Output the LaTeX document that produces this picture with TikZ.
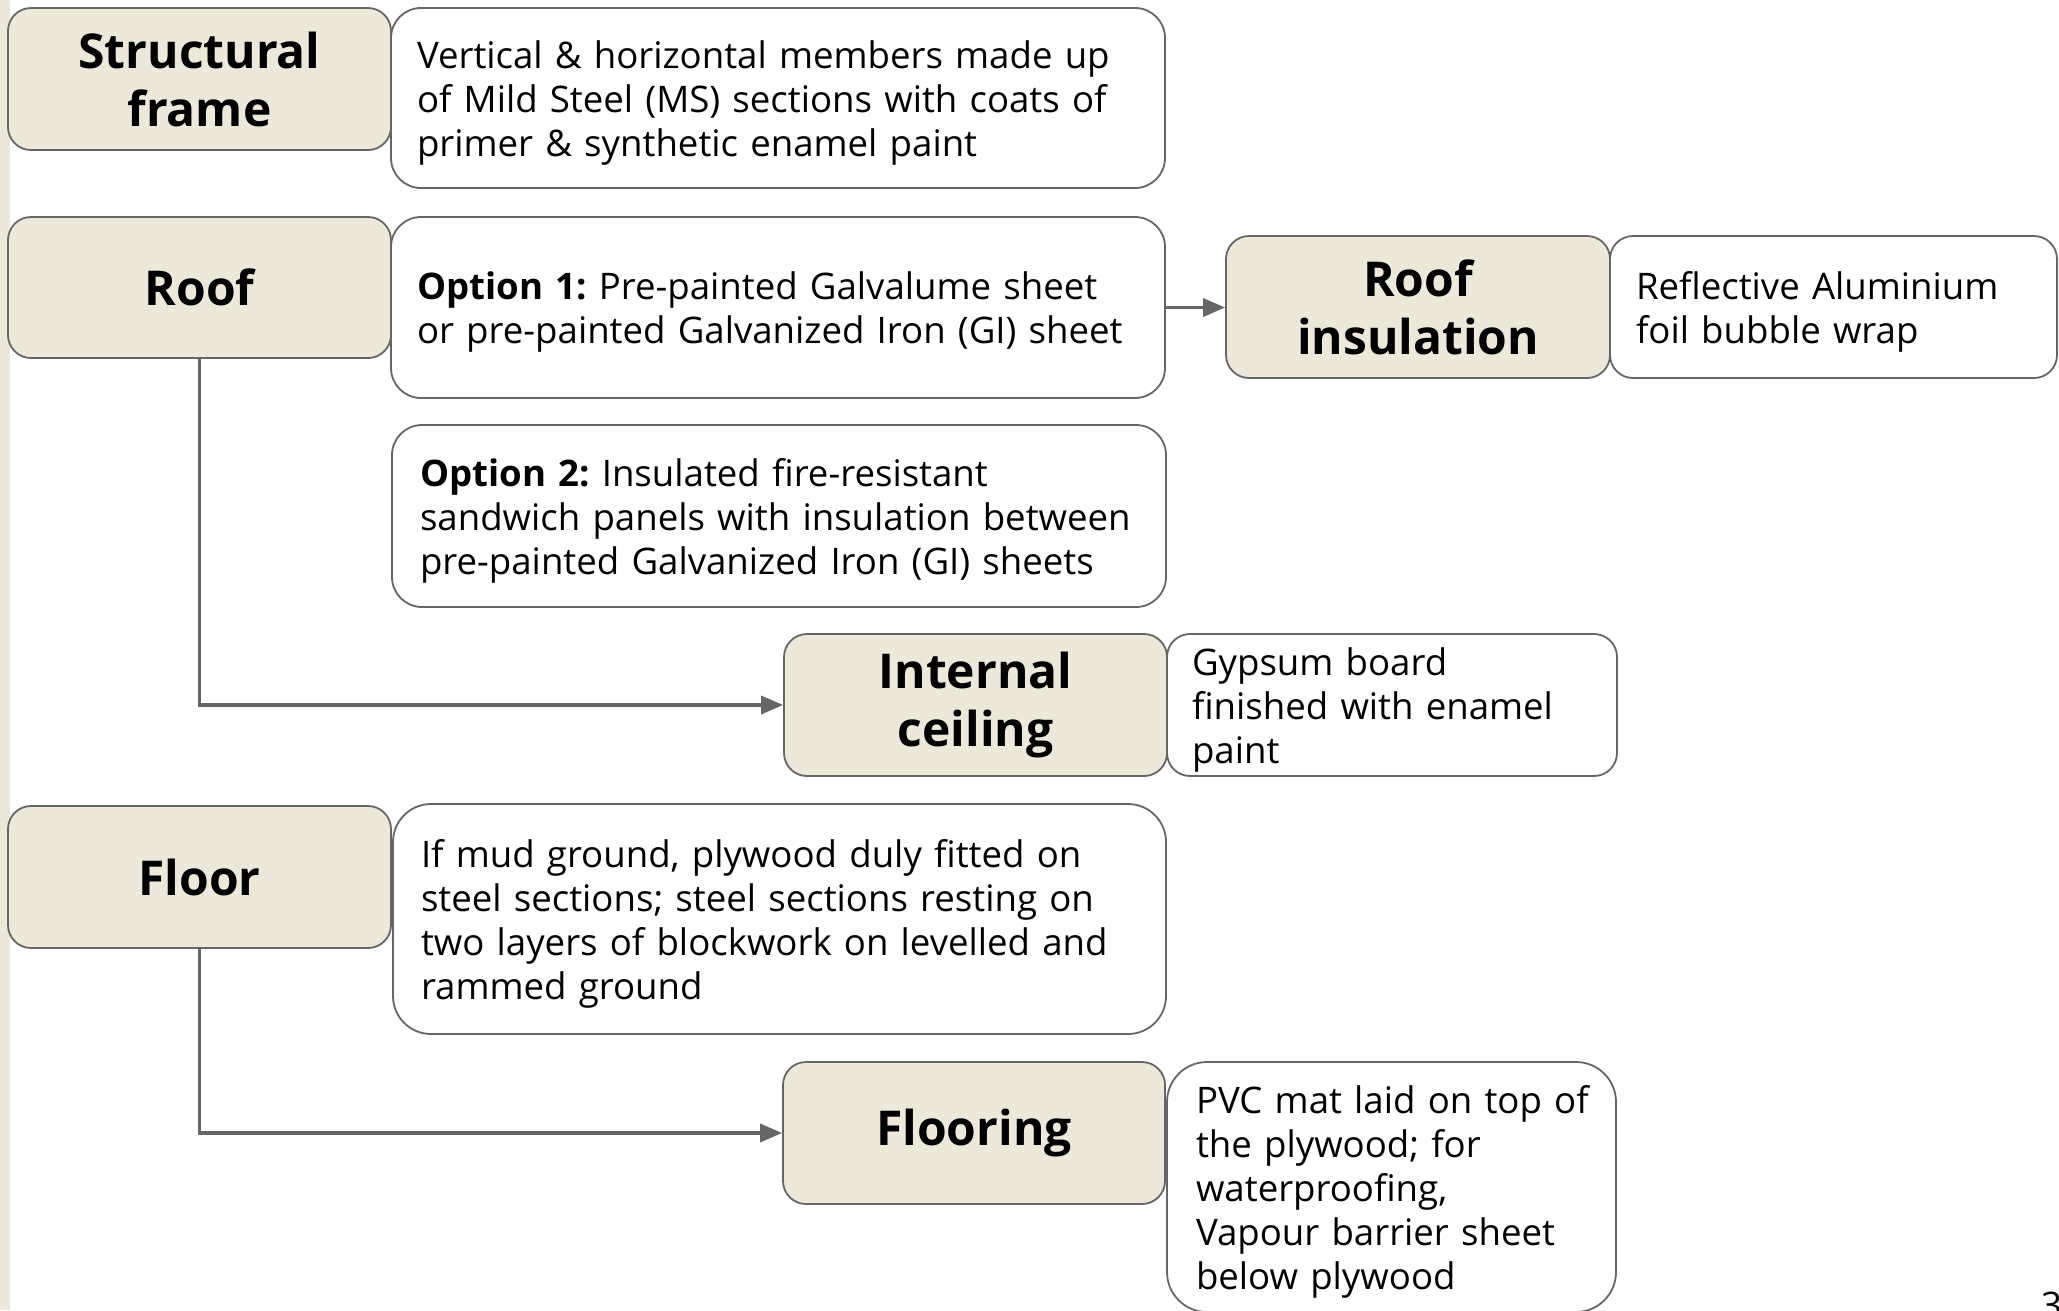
\documentclass[tikz,border=0pt]{standalone}
\usepackage{fontspec}
\setmainfont{Open Sans}
\usetikzlibrary{arrows.meta}
\definecolor{beige}{RGB}{236,233,218}
\definecolor{edgegray}{RGB}{102,102,102}
\newcommand{\bodyfnt}{\fontsize{36.6}{44}\selectfont\frenchspacing}
\newcommand{\titlefnt}{\fontsize{48}{58}\selectfont\bfseries\frenchspacing}
\newcommand{\tst}{\rule{0pt}{37pt}}
\newcommand{\bst}{\rule[-9pt]{0pt}{9pt}}
\begin{document}
\begin{tikzpicture}[x=1pt,y=-1pt,
  box/.style={draw=edgegray, line width=1.8pt, inner sep=0pt},
  titlebox/.style={box, fill=beige, font=\titlefnt, align=center},
  descbox/.style={box, fill=white, font=\bodyfnt, align=left},
  conn/.style={draw=edgegray, line width=3.5pt, -{Triangle[length=22pt,width=18pt]}},
]
\useasboundingbox (0,0) rectangle (2059,1310);
\clip (0,0) rectangle (2059,1310);
\fill[white] (0,0) rectangle (2059,1310);
\fill[beige] (0,0) rectangle (10,1310);

% Structural frame
\node[titlebox, minimum width=383pt, minimum height=142pt, rounded corners=23pt] (sf) at (199.5,79) {Structural\\frame};
\node[descbox, minimum width=774pt, minimum height=180pt, rounded corners=30pt, text width=722pt] (sfd) at (778,98) {\tst Vertical \& horizontal members made up\\of Mild Steel (MS) sections with coats of\\primer \& synthetic enamel paint\bst};

% Roof
\node[titlebox, minimum width=383pt, minimum height=141pt, rounded corners=23pt] (roof) at (199.5,287.5) {Roof};
\node[descbox, minimum width=774pt, minimum height=181pt, rounded corners=30pt, text width=722pt] (opt1) at (778,307.5) {\tst\textbf{Option 1:} Pre-painted Galvalume sheet\\or pre-painted Galvanized Iron (GI) sheet\bst};
\node[titlebox, minimum width=384pt, minimum height=142pt, rounded corners=23pt] (ri) at (1418,307) {Roof\\insulation};
\node[descbox, minimum width=447pt, minimum height=142pt, rounded corners=23pt, text width=395pt] (refl) at (1833.5,307) {\tst Reflective Aluminium\\foil bubble wrap\bst};
\node[descbox, minimum width=774pt, minimum height=182pt, rounded corners=30pt, text width=718pt] (opt2) at (779,516) {\tst\textbf{Option 2:} Insulated fire-resistant\\sandwich panels with insulation between\\pre-painted Galvanized Iron (GI) sheets\bst};

% Internal ceiling
\node[titlebox, minimum width=383pt, minimum height=142pt, rounded corners=23pt] (ic) at (975.5,705) {Internal\\ceiling};
\node[descbox, minimum width=450pt, minimum height=142pt, rounded corners=23pt, text width=400pt] (gyp) at (1392,705) {\tst Gypsum board\\finished with enamel\\paint\bst};

% Floor
\node[titlebox, minimum width=383pt, minimum height=142pt, rounded corners=23pt] (floor) at (199.5,877) {Floor};
\node[descbox, minimum width=773pt, minimum height=230pt, rounded corners=38pt, text width=717pt] (flrd) at (779.5,919) {\tst If mud ground, plywood duly fitted on\\steel sections; steel sections resting on\\two layers of blockwork on levelled and\\rammed ground\bst};
\node[titlebox, minimum width=382pt, minimum height=142pt, rounded corners=23pt] (flooring) at (974,1133) {Flooring};
\node[descbox, minimum width=449pt, minimum height=250pt, rounded corners=40pt, text width=391pt] (pvc) at (1391.5,1187) {\tst\mbox{PVC mat laid on top of}\\the plywood; for\\waterproofing,\\Vapour barrier sheet\\below plywood\bst};

% connectors
\draw[conn] (opt1.east) -- (opt1.east -| ri.west);
\draw[conn] (roof.south) |- (ic.west);
\draw[conn] (floor.south) |- (flooring.west);

% page number
\node[anchor=base west, font=\bodyfnt, inner sep=0pt] (pg) at (2041,1318) {3};
\end{tikzpicture}
\end{document}
